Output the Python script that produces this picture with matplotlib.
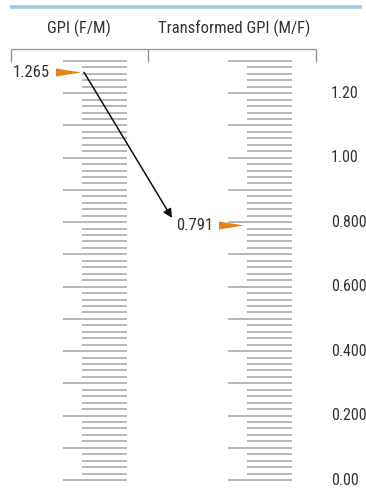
import numpy as np
import matplotlib
matplotlib.use("Agg")
import matplotlib.pyplot as plt
from matplotlib import font_manager

# pick a narrow font if one is installed
names = {f.name for f in font_manager.fontManager.ttflist}
stretch = 'normal'
if 'Roboto Condensed' in names:
    fam, fs = 'Roboto Condensed', 1.0
elif 'Liberation Sans Narrow' in names:
    fam, fs = 'Liberation Sans Narrow', 1.0
elif any(f.name == 'DejaVu Sans' and f.stretch == 'condensed' for f in font_manager.fontManager.ttflist):
    fam, fs, stretch = 'DejaVu Sans', 0.85, 'condensed'
else:
    fam, fs = 'Roboto', 0.85
plt.rcParams['font.family'] = [fam, 'DejaVu Sans']
plt.rcParams['font.stretch'] = stretch

# data
scale_max = 1.30
minor_step = 0.02
major_step = 0.10
gpi_fm = 1.265
gpi_mf = 0.791
label_values = [0.0, 0.2, 0.4, 0.6, 0.8, 1.0, 1.2]
label_texts = ["0.00", "0.200", "0.400", "0.600", "0.800", "1.00", "1.20"]
headers = ["GPI (F/M)", "Transformed GPI (M/F)"]

# pixel scale: value 0 at row 480, 1.30 at row 61
k = (480 - 61) / scale_max
fig = plt.figure(figsize=(3.66, 4.90), dpi=100)
ax = fig.add_axes([0, 0, 1, 1])
ax.set_xlim(0, 366)
ax.set_ylim(-10 / k, 480 / k)
ax.axis('off')

def px(row):  # row from top -> value
    return (480 - row) / k

grey = '#aaaaaa'
orange = '#e8801f'
txt = '#333333'

ticks = np.round(np.arange(0, scale_max + 1e-9, minor_step), 2)
for x_long, x_short, x_end in [(63, 82, 127), (228, 247, 292)]:
    for t in ticks:
        is_major = abs(t / major_step - round(t / major_step)) < 1e-6
        ax.hlines(t, x_long if is_major else x_short, x_end, color=grey, lw=1.2)

# header band and bracket
ax.hlines(px(6.5), 10, 362, color='#a7c7dd', lw=2.6)
ax.text(79, px(28), headers[0], ha='center', va='center', fontsize=12 * fs, color=txt)
ax.text(234, px(28), headers[1], ha='center', va='center', fontsize=12 * fs, color=txt)
ax.hlines(px(49), 11, 316, color='#999999', lw=1)
ax.vlines([11, 148, 316], px(62), px(49), color='#999999', lw=1)

# right axis labels
for v, s in zip(label_values, label_texts):
    ax.text(331, v, s, ha='left', va='center', fontsize=11.5 * fs, color=txt)

# markers
tri = [(-1, 0.32), (-1, -0.32), (1, 0)]
ax.plot([67.5], [gpi_fm], marker=tri, ms=18, color=orange, mec='none', ls='none')
ax.plot([231], [gpi_mf], marker=tri, ms=18, color=orange, mec='none', ls='none')
ax.text(50, gpi_fm, f"{gpi_fm:.3f}", ha='right', va='center', fontsize=12 * fs, color=txt)
ax.text(213, gpi_mf, f"{gpi_mf:.3f}", ha='right', va='center', fontsize=12 * fs, color=txt)

ax.annotate('', xy=(172, gpi_mf + 0.022), xytext=(84, gpi_fm),
            arrowprops=dict(arrowstyle='-|>', color='#111111', lw=1.1,
                            mutation_scale=13, shrinkA=0, shrinkB=0))

fig.savefig('out.png', dpi=100)
